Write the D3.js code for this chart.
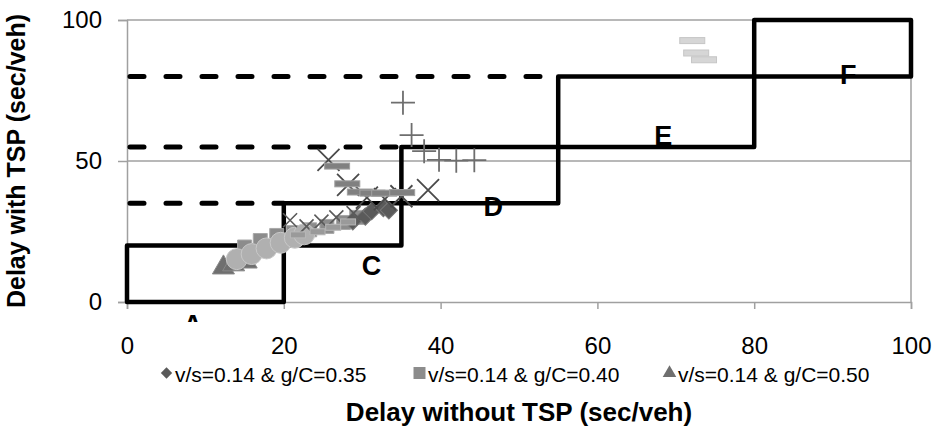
<!DOCTYPE html>
<html>
<head>
<meta charset="utf-8">
<script src="https://d3js.org/d3.v7.min.js"></script>
<style>
body { margin: 0; background: #fff; }
text { font-family: Arial, "Liberation Sans", sans-serif; fill: #000; }
</style>
</head>
<body>
<svg width="935" height="426"></svg>
<script>
// level of service boxes (sec/veh)
var losX0 = [0, 20, 35, 55, 80];
var losX1 = [20, 35, 55, 80, 100];
var losY0 = [0, 20, 35, 55, 80];
var losY1 = [20, 35, 55, 80, 100];
var losLetters = ["A", "C", "D", "E", "F"];
var letterX = [8.4, 31.2, 46.7, 68.4, 92.0];
var letterY = [-7.8, 13.1, 34.0, 59.0, 80.9];
// dashed thresholds
var dashY = [35, 55, 80];
var dashEnd = [20, 35, 55];

var xTicks = [0, 20, 40, 60, 80, 100];
var yTicks = [0, 50, 100];
var legendNames = ["v/s=0.14 & g/C=0.35", "v/s=0.14 & g/C=0.40", "v/s=0.14 & g/C=0.50"];

// series values
var s35x = [28.8, 30.4, 31.2, 32.7, 33.4];
var s35y = [28.6, 30.3, 32.2, 33.3, 32.5];
var s40x = [15.0, 17.0, 19.1, 21.2, 23.3, 25.5, 27.6, 29.3];
var s40y = [19.5, 21.8, 23.6, 24.6, 25.6, 26.8, 28.2, 30.0];
var s50x = [12.3, 13.6, 15.2];
var s50y = [12.2, 13.3, 14.3];
var circX = [14.0, 15.9, 17.8, 19.6, 21.4, 22.6];
var circY = [15.2, 17.0, 19.0, 21.0, 22.8, 24.0];
var xSmallX = [20.8, 22.9, 24.8, 26.7, 28.9];
var xSmallY = [29.0, 26.8, 28.5, 30.0, 31.5];
var barLowX = [21.8, 24.3, 26.3, 28.2];
var barLowY = [23.8, 24.9, 26.5, 28.4];
var xBigX = [25.7, 28.2, 30.6, 32.9, 35.0, 38.4];
var xBigY = [50.4, 41.5, 37.0, 36.5, 37.5, 39.7];
var barX = [26.8, 28.1, 29.7, 31.3, 32.8, 35.1];
var barY = [48.2, 41.9, 39.0, 38.6, 38.6, 38.8];
var plusX = [35.2, 36.3, 37.9, 39.8, 42.0, 44.3];
var plusY = [70.7, 59.2, 53.5, 50.4, 50.1, 50.3];
var barHiX = [72.1, 72.6, 73.6];
var barHiY = [92.7, 88.3, 85.9];

var svg = d3.select("svg"),
    pLeft = 127, pRight = 911, pTop = 20, pBottom = 302;

var x = d3.scaleLinear().domain([0, 100]).range([pLeft, pRight]);
var y = d3.scaleLinear().domain([0, 100]).range([pBottom, pTop]);

function zip(xs, ys) { return xs.map(function(v, i) { return [v, ys[i]]; }); }

// gridlines
svg.append("g").selectAll("line").data(yTicks.slice(1)).enter().append("line")
  .attr("x1", pLeft).attr("x2", pRight)
  .attr("y1", function(d) { return y(d); }).attr("y2", function(d) { return y(d); })
  .attr("stroke", "#a0a0a0").attr("stroke-width", 1.5);
svg.append("line").attr("x1", pRight).attr("x2", pRight).attr("y1", pTop).attr("y2", pBottom)
  .attr("stroke", "#a0a0a0").attr("stroke-width", 1.5);

// axes
var yAxis = svg.append("g").attr("transform", "translate(" + pLeft + ",0)")
  .call(d3.axisLeft(y).tickValues(yTicks).tickSize(9).tickPadding(16));
var xAxis = svg.append("g").attr("transform", "translate(0," + pBottom + ")")
  .call(d3.axisBottom(x).tickValues(xTicks).tickSize(7).tickPadding(28));
[xAxis, yAxis].forEach(function(a) {
  a.select(".domain").attr("stroke", "#a0a0a0").attr("stroke-width", 1.5);
  a.selectAll(".tick line").attr("stroke", "#a0a0a0").attr("stroke-width", 1.5);
  a.selectAll("text").style("font-size", "24px").attr("fill", "#000");
});

// dashed threshold lines
svg.append("g").selectAll("line").data(dashY).enter().append("line")
  .attr("x1", x(0) + 3).attr("x2", function(d, i) { return x(dashEnd[i]); })
  .attr("y1", function(d) { return y(d); }).attr("y2", function(d) { return y(d); })
  .attr("stroke", "#000").attr("stroke-width", 5)
  .attr("stroke-linecap", "round").attr("stroke-dasharray", "14,22");

// LOS boxes
svg.append("g").selectAll("rect").data(losX0).enter().append("rect")
  .attr("x", function(d) { return x(d); })
  .attr("y", function(d, i) { return y(losY1[i]); })
  .attr("width", function(d, i) { return x(losX1[i]) - x(d); })
  .attr("height", function(d, i) { return y(losY0[i]) - y(losY1[i]); })
  .attr("fill", "none").attr("stroke", "#000").attr("stroke-width", 4.5)
  .attr("stroke-linejoin", "round");

// markers
var g = svg.append("g");
function symbols(data, type, size, fill, stroke, rot) {
  g.append("g").selectAll("path").data(data).enter().append("path")
    .attr("d", d3.symbol().type(type).size(size))
    .attr("transform", function(d) { return "translate(" + x(d[0]) + "," + y(d[1]) + ")" + (rot ? " rotate(" + rot + ")" : ""); })
    .attr("fill", fill).attr("stroke", stroke).attr("stroke-width", 1);
}
function crosses(data, half, color, width, diag) {
  var p = diag ? "M" + (-half) + "," + (-half) + "L" + half + "," + half + "M" + (-half) + "," + half + "L" + half + "," + (-half)
               : "M" + (-half) + ",0L" + half + ",0M0," + (-half) + "L0," + half;
  g.append("g").selectAll("path").data(data).enter().append("path")
    .attr("d", p)
    .attr("transform", function(d) { return "translate(" + x(d[0]) + "," + y(d[1]) + ")"; })
    .attr("fill", "none").attr("stroke", color).attr("stroke-width", width);
}
function bars(data, w, h, fill, stroke) {
  g.append("g").selectAll("rect").data(data).enter().append("rect")
    .attr("x", function(d) { return x(d[0]) - w / 2; })
    .attr("y", function(d) { return y(d[1]) - h / 2; })
    .attr("width", w).attr("height", h)
    .attr("fill", fill).attr("stroke", stroke).attr("stroke-width", 1);
}

symbols(zip(s40x, s40y), d3.symbolSquare, 196, "#8c8c8c", "#a8a8a8");
symbols(zip(s50x, s50y), d3.symbolTriangle, 210, "#6f6f6f", "#888");
symbols(zip(circX, circY), d3.symbolCircle, 346, "#b0b0b0", "#c8c8c8");
symbols(zip(s35x, s35y), d3.symbolSquare, 150, "#5a5a5a", "#777", 45);
crosses(zip(xSmallX, xSmallY), 7, "#5a5a5a", 1.6, true);
bars(zip(barLowX, barLowY), 15, 6, "#9a9a9a", "#b8b8b8");
crosses(zip(xBigX, xBigY), 11, "#4a4a4a", 1.8, true);
bars(zip(barX, barY), 25, 6, "#808080", "#a0a0a0");
crosses(zip(plusX, plusY), 12, "#6e6e6e", 1.8, false);
bars(zip(barHiX, barHiY), 25, 6, "#d6d6d6", "#c6c6c6");

// LOS letters
svg.append("clipPath").attr("id", "lclip").append("rect")
  .attr("x", 0).attr("y", 0).attr("width", 935).attr("height", 322);
svg.append("g").attr("clip-path", "url(#lclip)").selectAll("text").data(losLetters).enter().append("text")
  .attr("x", function(d, i) { return x(letterX[i]); })
  .attr("y", function(d, i) { return y(letterY[i]); })
  .attr("text-anchor", "middle").attr("dy", "0.36em")
  .style("font-size", "27px").style("font-weight", "bold")
  .text(function(d) { return d; });

// legend
var legendX = [160, 413, 663];
var legendTypes = [d3.symbolSquare, d3.symbolSquare, d3.symbolTriangle];
var legendFill = ["#5a5a5a", "#8c8c8c", "#6f6f6f"];
var lg = svg.append("g").selectAll("g").data(legendNames).enter().append("g")
  .attr("transform", function(d, i) { return "translate(" + legendX[i] + ",373)"; });
lg.append("path")
  .attr("d", function(d, i) { return d3.symbol().type(legendTypes[i]).size(i == 0 ? 64 : (i == 1 ? 144 : 80))(); })
  .attr("transform", function(d, i) { return "translate(6.5,0)" + (i == 0 ? " rotate(45)" : ""); })
  .attr("fill", function(d, i) { return legendFill[i]; });
lg.append("text").attr("x", 15).attr("y", 8.7)
  .style("font-size", "21px").text(function(d) { return d; });

// axis titles
svg.append("text").attr("x", (pLeft + pRight) / 2).attr("y", 421)
  .attr("text-anchor", "middle").style("font-size", "26px").style("font-weight", "bold")
  .text("Delay without TSP (sec/veh)");
svg.append("text").attr("transform", "translate(25," + (pTop + pBottom) / 2 + ") rotate(-90)")
  .attr("text-anchor", "middle").style("font-size", "25px").style("font-weight", "bold")
  .text("Delay with TSP (sec/veh)");
</script>
</body>
</html>
